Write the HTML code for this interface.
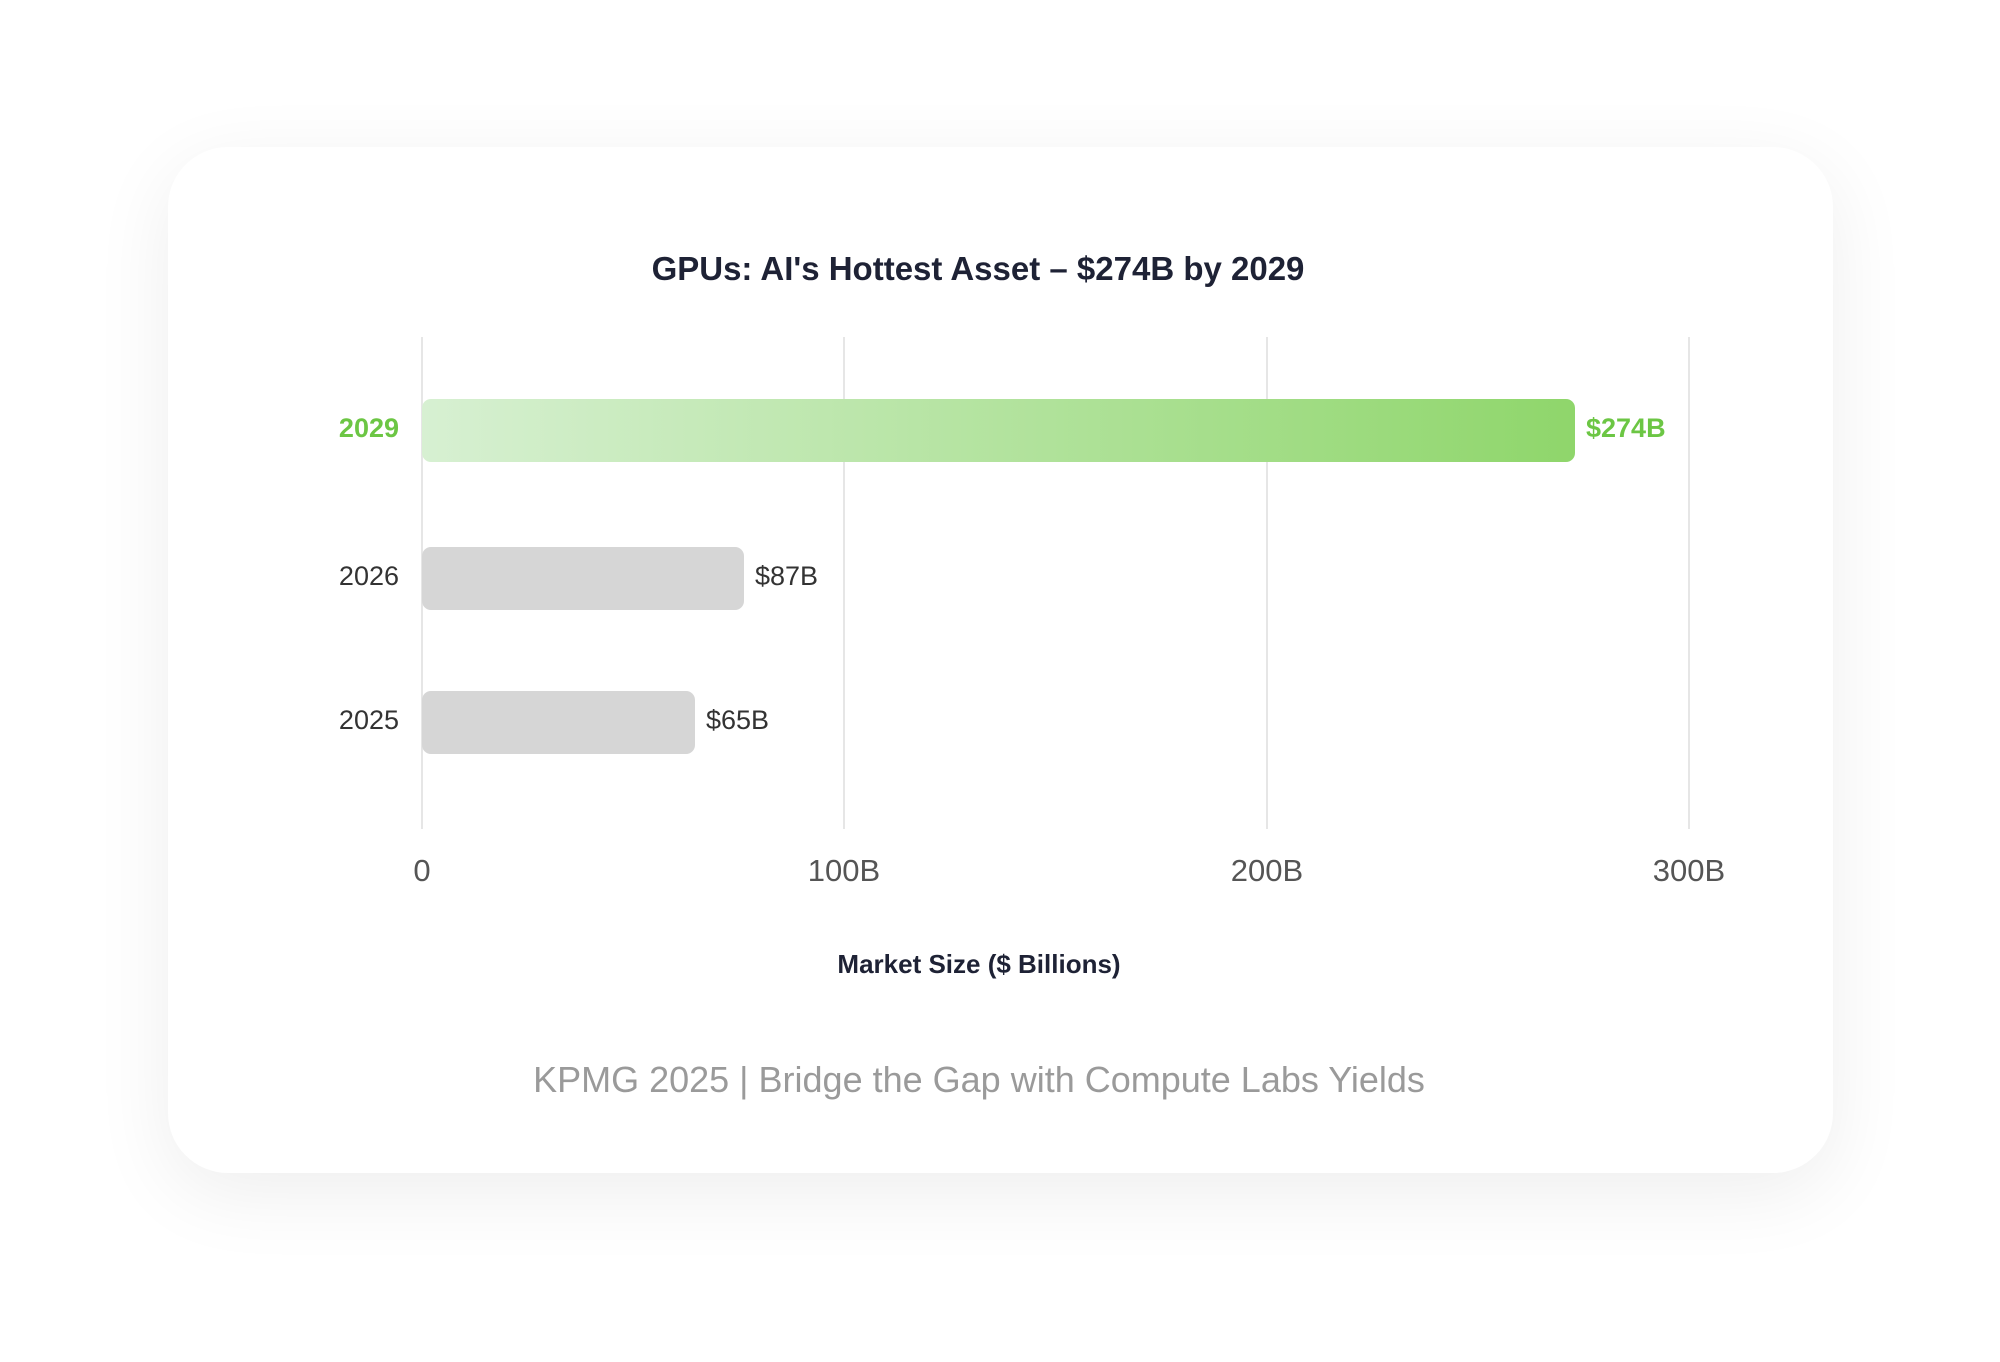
<!DOCTYPE html>
<html><head><meta charset="utf-8"><style>
html,body{margin:0;padding:0;background:#fff;width:2000px;height:1362px;overflow:hidden;font-family:"Liberation Sans",sans-serif}
.card{position:absolute;left:168px;top:147px;width:1665px;height:1026px;background:#fff;border-radius:60px;box-shadow:0 20px 80px rgba(0,0,0,0.07)}
.t{position:absolute;white-space:nowrap}
.grid{position:absolute;top:337px;height:492px;width:2px;background:#e6e6e6}
.bar{position:absolute;left:422px;border-radius:9px}
</style></head><body>
<div class="card"></div>
<div class="t" style="left:0;width:1956px;text-align:center;top:250px;font-size:33px;font-weight:bold;color:#1e2235">GPUs: AI's Hottest Asset – $274B by 2029</div>
<div class="grid" style="left:421px"></div>
<div class="grid" style="left:843px"></div>
<div class="grid" style="left:1266px"></div>
<div class="grid" style="left:1688px"></div>
<div class="bar" style="top:399px;height:63px;width:1153px;background:linear-gradient(90deg,#d7f0d2,#8fd66b)"></div>
<div class="bar" style="top:547px;height:63px;width:322px;background:#d6d6d6"></div>
<div class="bar" style="top:691px;height:63px;width:273px;background:#d6d6d6"></div>
<div class="t" style="right:1601px;top:413px;font-size:27px;font-weight:bold;color:#6cc644">2029</div>
<div class="t" style="right:1601px;top:561px;font-size:27px;color:#333">2026</div>
<div class="t" style="right:1601px;top:705px;font-size:27px;color:#333">2025</div>
<div class="t" style="left:1586px;top:413px;font-size:27px;font-weight:bold;color:#6cc644">$274B</div>
<div class="t" style="left:755px;top:561px;font-size:27px;color:#333">$87B</div>
<div class="t" style="left:706px;top:705px;font-size:27px;color:#333">$65B</div>
<div class="t" style="left:322px;width:200px;text-align:center;top:853px;font-size:31px;color:#555">0</div>
<div class="t" style="left:744px;width:200px;text-align:center;top:853px;font-size:31px;color:#555">100B</div>
<div class="t" style="left:1167px;width:200px;text-align:center;top:853px;font-size:31px;color:#555">200B</div>
<div class="t" style="left:1589px;width:200px;text-align:center;top:853px;font-size:31px;color:#555">300B</div>
<div class="t" style="left:0;width:1958px;text-align:center;top:949px;font-size:26px;font-weight:bold;color:#1e2235">Market Size ($ Billions)</div>
<div class="t" style="left:0;width:1958px;text-align:center;top:1059px;font-size:36px;color:#9a9a9a">KPMG 2025 | Bridge the Gap with Compute Labs Yields</div>
</body></html>
